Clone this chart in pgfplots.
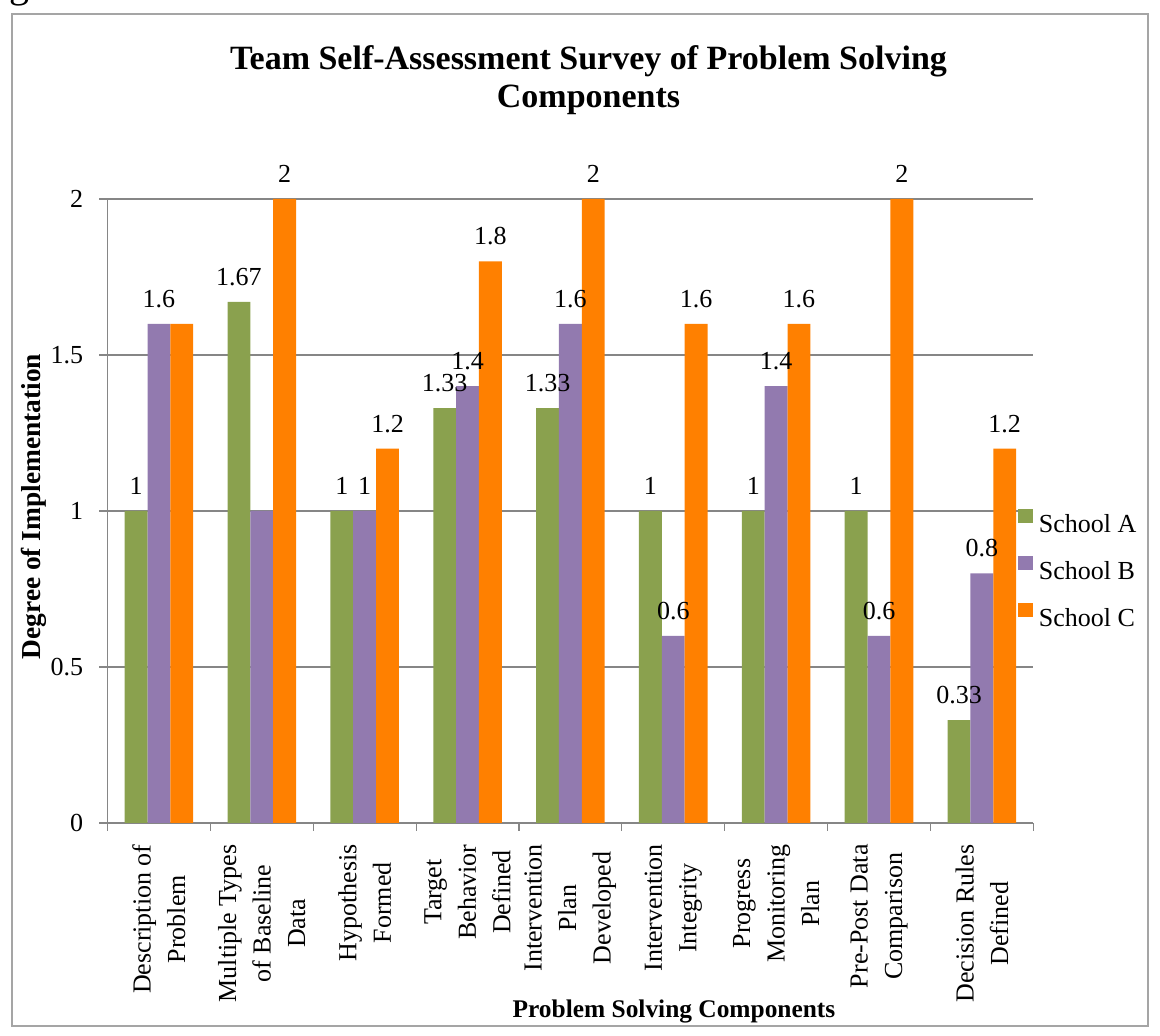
\documentclass[border=0pt]{standalone}
\usepackage{fontspec}
\setmainfont{Liberation Serif}
\usepackage{pgfplots}
\pgfplotsset{compat=1.18}
\definecolor{schoolA}{RGB}{138,161,78}
\definecolor{schoolB}{RGB}{146,122,175}
\definecolor{schoolC}{RGB}{255,128,0}
\definecolor{axisgray}{RGB}{134,134,134}
\definecolor{framegray}{RGB}{165,165,165}

\begin{document}
\begin{tikzpicture}
% page = 1160x1036 px at 0.5pt/px, origin at the axis' lower left corner
\useasboundingbox (-53.75pt,-106.5pt) rectangle (526.25pt,411.5pt);
\clip (-53.75pt,-106.5pt) rectangle (526.25pt,411.5pt);
\node[anchor=base west,font=\fontsize{20}{24}\selectfont,inner sep=0pt] at (-66pt,412.5pt) {Figure 4.};
\draw[framegray,line width=1pt] (-47.75pt,-101.75pt) rectangle (520.25pt,404.5pt);

\begin{axis}[
 at={(0pt,0pt)},anchor=south west,
 scale only axis,width=462.9pt,height=312pt,
 xmin=-0.5,xmax=8.5,ymin=0,ymax=2,
 axis lines*=left,axis line style={draw=axisgray,line width=0.6pt,-},
 ymajorgrids,grid style={axisgray,line width=0.6pt},
 ytick={0,0.5,1,1.5,2},
 xtick={0,...,8},
 xticklabels={{Description of\\Problem},{Multiple Types\\of Baseline\\Data},{Hypothesis\\Formed},{Target\\Behavior\\Defined},{Intervention\\Plan\\Developed},{Intervention\\Integrity},{Progress\\Monitoring\\Plan},{Pre-Post Data\\Comparison},{Decision Rules\\Defined}},
 minor xtick={-0.5,0.5,...,8.5},
 major x tick style={draw=none},
 minor x tick style={axisgray,line width=0.6pt},
 y tick style={axisgray,line width=0.6pt},
 tick align=outside,major tick length=4pt,minor tick length=4pt,
 xticklabel style={yshift=-6.5pt,rotate=90,anchor=east,align=center,inner sep=0pt,font=\fontsize{13}{17.25}\selectfont},
 yticklabel style={anchor=east,inner sep=0pt,xshift=-8pt,font=\fontsize{13}{15}\selectfont},
 /pgf/number format/assume math mode=true,
 ybar,bar width=0.2222,
 point meta=explicit symbolic,
 nodes near coords,
 every node near coord/.append style={font=\fontsize{13}{15}\selectfont,anchor=south,inner sep=0pt,yshift=7.85pt,text=black},
 legend style={at={(0.9838,0.4054)},anchor=west,draw=none,fill=white,inner sep=0pt,outer sep=0pt,
  font=\fontsize{13}{15}\selectfont,row sep=9.25pt,
  nodes={inner sep=0pt,text height=9pt,text depth=2.5pt}},
 legend cell align=left,
 legend image code/.code={\fill[#1,draw=none] (0pt,1.2pt) rectangle (7.25pt,8.45pt);\path (10.25pt,4pt);},
]
\addplot[fill=schoolA,draw=none,bar shift=-0.2222] coordinates {(0,1)[1] (1,1.67)[1.67] (2,1)[1] (3,1.33)[1.33] (4,1.33)[1.33] (5,1)[1] (6,1)[1] (7,1)[1] (8,0.33)[0.33]};
\addplot[fill=schoolB,draw=none,bar shift=0] coordinates {(0,1.6)[1.6] (1,1)[\relax] (2,1)[1] (3,1.4)[1.4] (4,1.6)[1.6] (5,0.6)[0.6] (6,1.4)[1.4] (7,0.6)[0.6] (8,0.8)[0.8]};
\addplot[fill=schoolC,draw=none,bar shift=0.2222] coordinates {(0,1.6)[\relax] (1,2)[2] (2,1.2)[1.2] (3,1.8)[1.8] (4,2)[2] (5,1.6)[1.6] (6,1.6)[1.6] (7,2)[2] (8,1.2)[1.2]};
\legend{School A,School B,School C}
\end{axis}

\node[anchor=base,font=\fontsize{17}{20}\bfseries] at (240.5pt,376.5pt) {Team Self-Assessment Survey of Problem Solving};
\node[anchor=base,font=\fontsize{17}{20}\bfseries] at (240.5pt,357.5pt) {Components};
\node[anchor=base,rotate=90,font=\fontsize{13.7}{16}\bfseries] at (-33.25pt,158.25pt) {Degree of Implementation};
\node[anchor=base,font=\fontsize{12.7}{15}\bfseries] at (283.25pt,-97.5pt) {Problem Solving Components};
\end{tikzpicture}
\end{document}
